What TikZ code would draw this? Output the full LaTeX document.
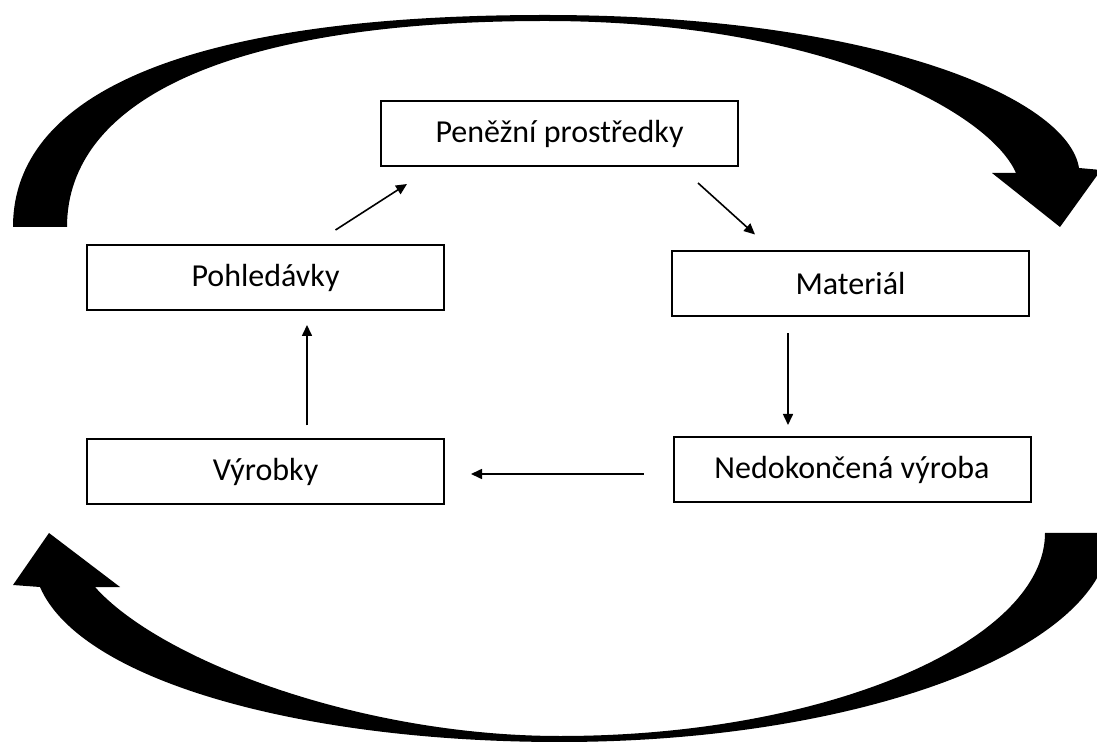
\documentclass[tikz,border=0pt]{standalone}
\usepackage{fontspec}
\setmainfont{Carlito}
\usetikzlibrary{arrows.meta}

\begin{document}
\begin{tikzpicture}[x=0.5pt,y=0.5pt,
	box/.style={draw=black, line width=1pt, minimum width=178.5pt, minimum height=32.5pt, inner sep=0pt, outer sep=0pt, font=\fontsize{16}{19}\selectfont},
	flow/.style={draw=black, line width=0.8pt, -{Triangle[length=5.5pt,width=5pt]}}]
			\useasboundingbox (0,0) rectangle (1097,-742);
			\clip (0,0) rectangle (1097,-742);
			\node [box] (pen) at (559.5,-133.5) {Peněžní prostředky};
			\node [box] (pohl) at (265.5,-277.5) {Pohledávky};
			\node [box] (mat) at (850.5,-284) {Materiál};
			\node [box] (ned) at (852,-469.5) {Nedokončená výroba};
			\node [box] (vyr) at (265.5,-472) {Výrobky};
			\draw [flow] ([shift={(70,15)}]pohl.north) -- ([shift={(26,-18)}]pen.south west);
			\draw [flow] ([shift={(-40,-17)}]pen.south east) -- ([shift={(83,17)}]mat.north west);
			\draw [flow] ([shift={(-62.5,-17)}]mat.south) -- ([shift={(-64,12)}]ned.north);
			\draw [flow] ([shift={(-30,-4.5)}]ned.west) -- ([shift={(27,-2)}]vyr.east);
			\draw [flow] ([shift={(41.5,14)}]vyr.north) -- ([shift={(41.5,-15)}]pohl.south);
			\fill [black] (13,-227) .. controls (13,-89) and (199,-15) .. (545,-15)
				.. controls (875,-15) and (1068,-98) .. (1079,-168)
				-- (1101,-170) -- (1060,-227) -- (992,-173) -- (1016,-173)
				.. controls (990,-113) and (825,-21) .. (545,-21)
				.. controls (230,-21) and (67,-100) .. (67,-227) -- cycle;
			\fill [black] (1045,-533) .. controls (1045,-640) and (830,-736) .. (560,-736)
				.. controls (360,-736) and (160,-660) .. (95,-587)
				-- (120,-587) -- (49,-533) -- (13,-585) -- (40,-587)
				.. controls (80,-680) and (300,-742) .. (560,-742)
				.. controls (862,-742) and (1110,-648) .. (1110,-533) -- cycle;
			\end{tikzpicture}
\end{document}
